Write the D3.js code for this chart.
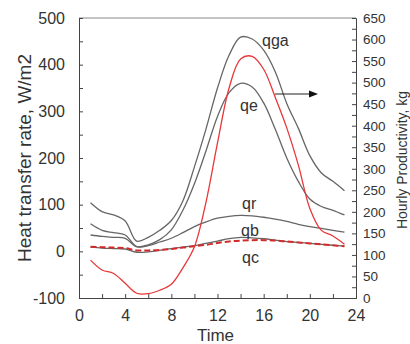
<!DOCTYPE html>
<html>
<head>
<meta charset="utf-8">
<script src="https://cdnjs.cloudflare.com/ajax/libs/d3/7.8.5/d3.min.js"></script>
<style>
  body { margin: 0; background: #fff; }
  svg text { font-family: "Liberation Sans", Arial, sans-serif; fill: #333; }
</style>
</head>
<body>
<div id="chart"></div>
<script>
// hours of the day
const hours = [1, 2, 3, 4, 5, 6, 7, 8, 9, 10, 11, 12, 13, 14, 15, 16, 17, 18, 19, 20, 21, 22, 23];

// heat transfer rates, W/m2 (left axis)
const qga = [104, 85, 78, 65, 22, 30, 45, 66, 108, 181, 262, 350, 420, 459, 455, 431, 385, 317, 264, 205, 168, 150, 130];
const qe  = [59, 45, 40, 35, 10, 14, 25, 46, 88, 145, 215, 289, 340, 360, 352, 318, 262, 200, 150, 112, 96, 88, 78];
const qr  = [35, 32, 30, 28, 10, 12, 20, 28, 40, 53, 63, 71, 75, 77, 76, 73, 69, 64, 58, 53, 49, 45, 41];
const qb  = [9, 7, 6, 5, -2, -1, 2, 6, 9, 12, 17, 22, 27, 30, 29, 27, 24, 21, 19, 17, 15, 13, 11];
const qc  = [10, 9, 8, 7, 2, 2, 3, 5, 8, 11, 14, 18, 21, 23, 24, 24, 23, 21, 19, 17, 15, 13, 11];

// hourly productivity, kg (right axis)
const productivity = [88, 65, 57, 34, 11, 10, 18, 32, 70, 119, 222, 360, 487, 555, 561, 531, 466, 395, 309, 208, 157, 144, 125];

const xTicks = [0, 4, 8, 12, 16, 20, 24];
const yLeftTicks = [-100, 0, 100, 200, 300, 400, 500];
const yRightTicks = [0, 50, 100, 150, 200, 250, 300, 350, 400, 450, 500, 550, 600, 650];

const width = 410, height = 344;
const margin = { top: 18, right: 54, bottom: 46, left: 79 };

const svg = d3.select('#chart').append('svg')
    .attr('width', width)
    .attr('height', height);

const x = d3.scaleLinear().domain([0, 24]).range([margin.left, width - margin.right]);
const yL = d3.scaleLinear().domain([-100, 500]).range([height - margin.bottom, margin.top]);
const yR = d3.scaleLinear().domain([0, 650]).range([height - margin.bottom, margin.top]);

const axisColor = '#444';

// frame top line
svg.append('line')
    .attr('x1', x(0)).attr('x2', x(24))
    .attr('y1', yL(500)).attr('y2', yL(500))
    .attr('stroke', '#888').attr('stroke-width', 1);

// x axis
const gx = svg.append('g')
    .attr('transform', `translate(0,${yL(-100)})`)
    .call(d3.axisBottom(x).tickValues(d3.range(0, 25, 2)).tickSize(-4).tickPadding(10)
        .tickFormat(d => xTicks.includes(d) ? d : ''));
gx.selectAll('text').attr('font-size', 16).attr('dy', '0.8em');

// left axis
const gl = svg.append('g')
    .attr('transform', `translate(${x(0)},0)`)
    .call(d3.axisLeft(yL).tickValues(d3.range(-100, 501, 50)).tickSize(-4).tickPadding(14)
        .tickFormat(d => yLeftTicks.includes(d) ? d : ''));
gl.selectAll('text').attr('font-size', 16);

// right axis
const gr = svg.append('g')
    .attr('transform', `translate(${x(24)},0)`)
    .call(d3.axisRight(yR).tickValues(d3.range(0, 651, 25)).tickSize(-4).tickPadding(7)
        .tickFormat(d => yRightTicks.includes(d) ? d : ''));
gr.selectAll('text').attr('font-size', 13.5);

[gx, gl, gr].forEach(g => {
    g.select('.domain').attr('stroke', axisColor);
    g.selectAll('.tick line').attr('stroke', axisColor);
    g.selectAll('text').attr('fill', '#333').attr('font-family', '"Liberation Sans", Arial, sans-serif');
});

// axis titles
svg.append('text')
    .attr('x', (x(0) + x(24)) / 2 - 2)
    .attr('y', 341)
    .attr('text-anchor', 'middle')
    .attr('font-size', 17)
    .text('Time');

svg.append('text')
    .attr('transform', `translate(31,${(yL(500) + yL(-100)) / 2}) rotate(-90)`)
    .attr('text-anchor', 'middle')
    .attr('font-size', 19)
    .text('Heat transfer rate, W/m2');

svg.append('text')
    .attr('transform', `translate(407,160) rotate(-90)`)
    .attr('text-anchor', 'middle')
    .attr('font-size', 14)
    .text('Hourly Productivity, kg');

// lines
const lineL = d3.line().x((d, i) => x(hours[i])).y(d => yL(d)).curve(d3.curveCatmullRom);
const lineR = d3.line().x((d, i) => x(hours[i])).y(d => yR(d)).curve(d3.curveCatmullRom);

const gray = '#666';
[qga, qe, qr, qb].forEach(s => {
    svg.append('path').datum(s)
        .attr('d', lineL)
        .attr('fill', 'none')
        .attr('stroke', gray)
        .attr('stroke-width', 1.3);
});

svg.append('path').datum(qc)
    .attr('d', lineL)
    .attr('fill', 'none')
    .attr('stroke', '#d42a2a')
    .attr('stroke-width', 2)
    .attr('stroke-dasharray', '6,3');

svg.append('path').datum(productivity)
    .attr('d', lineR)
    .attr('fill', 'none')
    .attr('stroke', '#e8383a')
    .attr('stroke-width', 1.3);

// series labels
const labels = [
    { t: 'qga', x: 262, y: 46 },
    { t: 'qe', x: 240, y: 111 },
    { t: 'qr', x: 242, y: 209 },
    { t: 'qb', x: 241, y: 236 },
    { t: 'qc', x: 242, y: 263 }
];
svg.selectAll('.lbl').data(labels).enter().append('text')
    .attr('x', d => d.x).attr('y', d => d.y)
    .attr('font-size', 16)
    .attr('fill', '#444')
    .text(d => d.t);

// arrow pointing to right axis
svg.append('line')
    .attr('x1', 275).attr('x2', 312).attr('y1', 94).attr('y2', 94)
    .attr('stroke', '#222').attr('stroke-width', 1.2);
svg.append('polygon')
    .attr('points', '318,94 309,90.5 309,97.5')
    .attr('fill', '#111');
</script>
</body>
</html>
